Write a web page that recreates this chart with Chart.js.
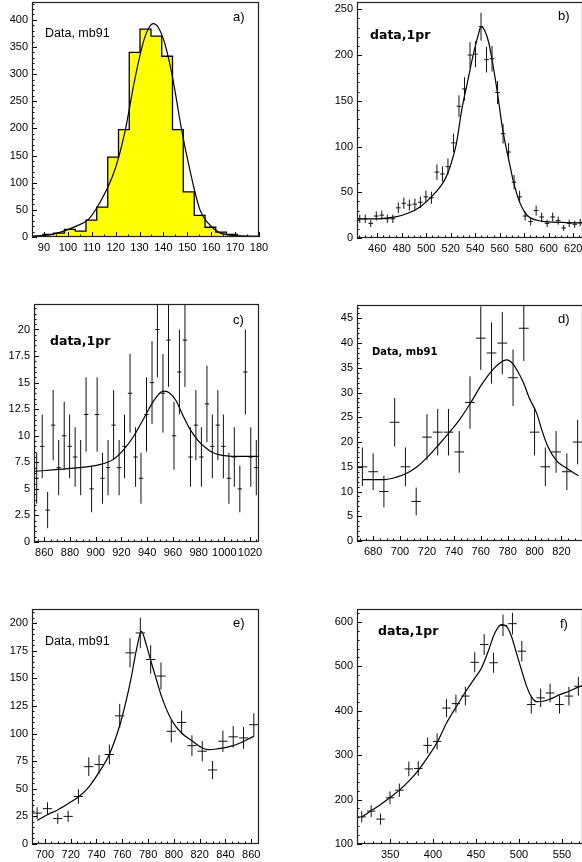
<!DOCTYPE html>
<html>
<head>
<meta charset="utf-8">
<title>Invariant mass spectra</title>
<script src="https://cdn.jsdelivr.net/npm/chart.js@4.4.1/dist/chart.umd.min.js"></script>
<style>
  html, body { margin: 0; padding: 0; background: #fff; }
  body { position: relative; width: 582px; height: 862px; overflow: hidden; }
  canvas { position: absolute; }
</style>
</head>
<body>
<canvas id="pa"></canvas>
<canvas id="pb"></canvas>
<canvas id="pc"></canvas>
<canvas id="pd"></canvas>
<canvas id="pe"></canvas>
<canvas id="pf"></canvas>
<script>
"use strict";

// a) histogram, mb91
var aEdges = [85, 89.52, 94.05, 98.57, 103.1, 107.6, 112.1, 116.7, 121.2, 125.7, 130.2,
  134.8, 139.3, 143.8, 148.3, 152.9, 157.4, 161.9, 166.4, 171, 175.5, 180];
var aCounts = [1, 5, 7, 14, 11, 31, 55, 147, 198, 340, 383, 370, 333, 198, 83, 40, 18, 9, 5, 1, 1];
var aFitX = [85, 92.4, 99.4, 104, 108.5, 112, 116, 120, 124, 128, 132, 135.7, 138, 141, 144,
  147.6, 151, 155.3, 159, 163, 167, 172, 180];
var aFitY = [1.5, 4, 12.7, 21, 32, 53, 85, 128, 196, 290, 365, 393, 385, 350, 290, 198, 125,
  50, 24, 9, 4, 2, 1];
var aXTicks = [90, 100, 110, 120, 130, 140, 150, 160, 170, 180];
var aYTicks = [0, 50, 100, 150, 200, 250, 300, 350, 400];

// b) data,1pr
var bX = [445.75, 450.25, 454.75, 459.25, 463.75, 468.25, 472.75, 477.25, 481.75, 486.25,
  490.75, 495.25, 499.75, 504.25, 508.75, 513.25, 517.75, 522.25, 526.75, 531.25, 535.75,
  540.25, 544.75, 549.25, 553.75, 558.25, 562.75, 567.25, 571.75, 576.25, 580.75, 585.25,
  589.75, 594.25, 598.75, 603.25, 607.75, 612.25, 616.75, 621.25, 625.75];
var bY = [21, 21, 16, 24, 25, 21, 21, 33, 38, 36, 37, 39, 45, 44, 72, 70, 78, 104, 144, 163,
  200, 201, 231, 195, 196, 159, 114, 94, 61, 45, 24, 18, 30, 23, 16, 23, 19, 11, 16, 15, 17];
var bErr = [4.6, 4.6, 4, 4.9, 5, 4.6, 4.6, 5.7, 6.2, 6, 6.1, 6.2, 6.7, 6.6, 8.5, 8.4, 8.8,
  10.2, 12, 12.8, 14.1, 14.2, 15.2, 14, 14, 12.6, 10.7, 9.7, 7.8, 6.7, 4.9, 4.2, 5.5, 4.8, 4,
  4.8, 4.4, 3.3, 4, 3.9, 4.1];
var bFitX = [443.5, 460, 475, 485, 495, 505, 512, 516, 520, 524.6, 529, 533.5, 538, 542.5,
  544.8, 548, 551, 553.6, 558, 562.5, 567, 571.5, 576, 580.5, 585, 594, 610, 628];
var bFitY = [21, 21, 23, 27, 34, 46, 57, 66, 80, 103, 140, 169, 198, 222, 231, 226, 214, 196,
  160, 118, 88, 60, 40, 28, 22, 18.5, 17, 16.5];
var bXTicks = [460, 480, 500, 520, 540, 560, 580, 600, 620];
var bYTicks = [0, 50, 100, 150, 200, 250];

// c) data,1pr
var cX = [854.1, 858.4, 862.6, 866.9, 871.2, 875.5, 879.7, 884, 888.3, 892.5, 896.8, 901.1,
  905.3, 909.6, 913.9, 918.2, 922.4, 926.7, 931, 935.2, 939.5, 943.8, 948, 952.3, 956.6,
  960.9, 965.1, 969.4, 973.7, 977.9, 982.2, 986.5, 990.7, 995, 999.3, 1003.6, 1007.8,
  1012.1, 1016.4, 1020.6, 1024.9];
var cY = [6, 9, 3, 11, 7, 10, 9, 8, 7, 12, 5, 12, 6, 7, 11, 7, 9, 14, 8, 6, 12, 15, 20, 14,
  19, 10, 16, 19, 8, 11, 8, 13, 9, 11, 9, 6, 8, 5, 16, 8, 7];
var cErr = [2.4, 3, 1.7, 3.3, 2.6, 3.2, 3, 2.8, 2.6, 3.5, 2.2, 3.5, 2.4, 2.6, 3.3, 2.6, 3,
  3.7, 2.8, 2.4, 3.5, 3.9, 4.5, 3.7, 4.4, 3.2, 4, 4.4, 2.8, 3.3, 2.8, 3.6, 3, 3.3, 3, 2.4,
  2.8, 2.2, 4, 2.8, 2.6];
var cFitX = [852, 878.2, 904, 913.9, 921.8, 929.8, 937.7, 945.2, 950.6, 953.6, 957.6, 962.5,
  967.5, 973.4, 977.4, 981.4, 986.3, 991.3, 1001.8, 1012.1, 1027];
var cFitY = [6.65, 6.9, 7.3, 7.8, 8.7, 10, 11.7, 13.3, 14.1, 14.2, 14, 13.3, 12, 10.6, 9.9,
  9.3, 8.8, 8.4, 8.1, 8.05, 8.05];
var cXTicks = [860, 880, 900, 920, 940, 960, 980, 1000, 1020];
var cYTicks = [0, 2.5, 5, 7.5, 10, 12.5, 15, 17.5, 20];

// d) Data, mb91
var dX = [672, 680, 688, 696, 704, 712, 720, 728, 736, 744, 752, 760, 768, 776, 784, 792,
  800, 808, 816, 824, 832];
var dY = [15, 14, 10, 24, 15, 8, 21, 22, 22, 18, 28, 41, 38, 40, 33, 43, 22, 15, 18, 14, 20];
var dErr = [3.9, 3.7, 3.2, 4.9, 3.9, 2.8, 4.6, 4.7, 4.7, 4.2, 5.3, 6.4, 6.2, 6.3, 5.7, 6.6,
  4.7, 3.9, 4.2, 3.7, 4.5];
var dFitX = [672, 679.9, 688.2, 697.3, 704.3, 712.2, 720.2, 728.3, 736.2, 744.4, 752.4, 760.6,
  768.5, 774.3, 779.2, 783.9, 787, 791.9, 795.9, 801.6, 805.4, 809.7, 816.4, 824.4, 832.6];
var dFitY = [12.4, 12.4, 12.4, 12.9, 13.6, 14.9, 16.9, 19.3, 21.8, 24.6, 27.9, 31.6, 34.5,
  36, 36.6, 35.8, 34.5, 31.9, 29, 25.8, 22.4, 19.2, 16.2, 14.6, 13.2];
var dXTicks = [680, 700, 720, 740, 760, 780, 800, 820];
var dYTicks = [0, 5, 10, 15, 20, 25, 30, 35, 40, 45];

// e) Data, mb91
var eX = [694, 702, 710, 718, 726, 734, 742, 750, 758, 766, 774, 782, 790, 798, 806, 814,
  822, 830, 838, 846, 854, 862];
var eY = [28, 32, 23, 25, 43, 70, 72, 81, 116, 173, 191, 167, 152, 102, 110, 89, 84, 67, 93,
  97, 96, 108];
var eErr = [5.3, 5.7, 4.8, 5, 6.6, 8.4, 8.5, 9, 10.8, 13.2, 13.8, 12.9, 12.3, 10.1, 10.5,
  9.4, 9.2, 8.2, 9.6, 9.8, 9.8, 10.4];
var eFitX = [694.1, 701.9, 710.2, 718, 726.5, 734.3, 742, 750.3, 758.6, 763.2, 766.6, 771,
  774.8, 778.7, 782.6, 786.5, 790.4, 798.1, 805.9, 814.5, 822.2, 826.6, 833.1, 846, 862];
var eFitY = [21.4, 26.5, 31, 36.5, 43, 52, 65, 82, 109.5, 130.6, 148.7, 176, 192.5, 180,
  163.8, 148.7, 133.6, 112.5, 100.5, 93, 86.9, 85.4, 86, 89, 97.4];
var eXTicks = [700, 720, 740, 760, 780, 800, 820, 840, 860];
var eYTicks = [0, 25, 50, 75, 100, 125, 150, 175, 200];

// f) data,1pr
var fX = [317, 328, 338.9, 349.9, 360.8, 371.8, 382.8, 393.7, 404.7, 415.6, 426.6, 437.6,
  448.5, 459.5, 470.4, 481.4, 492.4, 503.3, 514.3, 525.2, 536.2, 547.2, 558.1, 569.1];
var fY = [161, 174, 156, 204, 221, 269, 270, 322, 331, 406, 416, 433, 509, 549, 508, 592,
  596, 534, 414, 429, 440, 414, 433, 455];
var fErr = [12.7, 13.2, 12.5, 14.3, 14.9, 16.4, 16.4, 17.9, 18.2, 20.1, 20.4, 20.8, 22.6,
  23.4, 22.5, 24.3, 24.4, 23.1, 20.3, 20.7, 21, 20.3, 20.8, 21.3];
var fFitX = [317, 328.6, 340.2, 350.7, 361.5, 372.3, 382.8, 394.4, 404.9, 415.7, 427.3, 438.2,
  448.7, 456.4, 464.2, 471.9, 479.6, 485.4, 491.2, 497, 502.8, 508.6, 514.5, 520.3, 528.1,
  536.6, 547.4, 558.3, 569.9, 574.2];
var fFitY = [160.8, 175.8, 190.8, 205.9, 222.4, 242.6, 265.9, 297.4, 329, 372.5, 410, 443.8,
  473.9, 496.4, 533.9, 575.2, 594, 590.2, 567.7, 530.2, 492.6, 456.6, 431.1, 420.6, 421.4,
  426.6, 436.3, 443.8, 453.6, 456.6];
var fXTicks = [350, 400, 450, 500, 550];
var fYTicks = [100, 200, 300, 400, 500, 600];

var TICK_FONT = { family: "'Liberation Sans', Arial, sans-serif", size: 11 };
var PLAIN_LABEL = "12.5px 'Liberation Sans', Arial, sans-serif";
var BOLD_LABEL = "bold 12.5px 'DejaVu Sans', sans-serif";
var SMALL_BOLD_LABEL = "bold 10px 'DejaVu Sans', sans-serif";
var LETTER_FONT = "13px 'Liberation Sans', Arial, sans-serif";

function zipPoints(xs, ys) {
  return xs.map(function (x, i) {
    return { x: x, y: ys[i] };
  });
}

function fitDataset(xs, ys) {
  return {
    data: zipPoints(xs, ys),
    borderColor: "#000",
    borderWidth: 1.2,
    pointRadius: 0,
    cubicInterpolationMode: "monotone",
    fill: false,
  };
}

function pointsDataset(xs, ys, errs, halfWidth) {
  return {
    data: zipPoints(xs, ys),
    showLine: false,
    pointRadius: 0,
    yErr: errs,
    xErr: halfWidth,
  };
}

// histogram outline: one point per lower bin edge plus the closing edge
function histDataset(edges, counts) {
  var pts = counts.map(function (c, i) {
    return { x: edges[i], y: c };
  });
  pts.push({ x: edges[edges.length - 1], y: counts[counts.length - 1] });
  return {
    data: pts,
    stepped: true,
    borderColor: "#000",
    borderWidth: 1.3,
    backgroundColor: "#ffff00",
    fill: "origin",
    pointRadius: 0,
  };
}

function drawTicks(ctx, scale, area, minorDiv, horizontal) {
  var ticks = scale.ticks.map(function (t) { return t.value; });
  var step = (ticks[1] - ticks[0]) / minorDiv;
  var v = ticks[0];
  while (v - step >= scale.min - 1e-9) v -= step;
  var k = Math.round((ticks[0] - v) / step);
  for (; v <= scale.max + 1e-9; v += step, k--) {
    var major = k % minorDiv === 0;
    var len = major ? 5 : 2.5;
    var p = Math.round(scale.getPixelForValue(v)) + 0.5;
    ctx.beginPath();
    if (horizontal) {
      ctx.moveTo(p, area.bottom);
      ctx.lineTo(p, area.bottom - len);
    } else {
      ctx.moveTo(area.left, p);
      ctx.lineTo(area.left + len, p);
    }
    ctx.stroke();
  }
}

var frameTicks = {
  id: "frameTicks",
  afterDatasetsDraw: function (chart) {
    var ctx = chart.ctx;
    var area = chart.chartArea;
    var xs = chart.scales.x;
    var ys = chart.scales.y;
    ctx.save();
    ctx.beginPath();
    ctx.rect(area.left, area.top, area.right - area.left, area.bottom - area.top);
    ctx.clip();
    ctx.strokeStyle = "#111";
    ctx.lineWidth = 1;
    chart.data.datasets.forEach(function (ds) {
      if (!ds.yErr) return;
      ds.data.forEach(function (pt, i) {
        var px = xs.getPixelForValue(pt.x);
        var py = ys.getPixelForValue(pt.y);
        ctx.beginPath();
        ctx.moveTo(px, ys.getPixelForValue(pt.y - ds.yErr[i]));
        ctx.lineTo(px, ys.getPixelForValue(pt.y + ds.yErr[i]));
        ctx.moveTo(xs.getPixelForValue(pt.x - ds.xErr), py);
        ctx.lineTo(xs.getPixelForValue(pt.x + ds.xErr), py);
        ctx.stroke();
      });
    });
    ctx.restore();
  },
  afterDraw: function (chart) {
    var ctx = chart.ctx;
    var area = chart.chartArea;
    var opts = chart.options.plugins.frameTicks;
    ctx.save();
    ctx.strokeStyle = "#000";
    ctx.lineWidth = 1;
    drawTicks(ctx, chart.scales.x, area, opts.xMinor, true);
    drawTicks(ctx, chart.scales.y, area, opts.yMinor, false);
    ctx.strokeStyle = "#222";
    ctx.lineWidth = 1.2;
    ctx.strokeRect(area.left + 0.5, area.top + 0.5,
      area.right - area.left - 1, area.bottom - area.top - 1);
    ctx.fillStyle = "#000";
    ctx.textBaseline = "alphabetic";
    ctx.textAlign = "left";
    opts.texts.forEach(function (t) {
      ctx.font = t.font;
      ctx.fillText(t.text, area.left + t.dx, area.top + t.dy);
    });
    ctx.restore();
  },
};

function makePanel(p) {
  var yW = 32, padTop = 10, padRight = 16, xH = 22;
  var canvas = document.getElementById(p.id);
  var left = p.frame[0] - yW;
  var top = p.frame[1] - padTop;
  canvas.width = p.frame[2] - left + padRight;
  canvas.height = p.frame[3] - top + xH;
  canvas.style.left = left + "px";
  canvas.style.top = top + "px";

  var tickLabels = {
    autoSkip: false,
    maxRotation: 0,
    minRotation: 0,
    color: "#000",
    font: TICK_FONT,
    callback: function (v) { return String(v); },
  };

  return new Chart(canvas.getContext("2d"), {
    type: "line",
    data: { datasets: p.datasets },
    options: {
      responsive: false,
      animation: false,
      devicePixelRatio: 1,
      layout: { padding: { left: 0, top: padTop, right: padRight, bottom: 0 } },
      plugins: {
        legend: { display: false },
        tooltip: { enabled: false },
        frameTicks: { xMinor: p.xMinor, yMinor: p.yMinor, texts: p.texts },
      },
      scales: {
        x: {
          type: "linear",
          min: p.xRange[0],
          max: p.xRange[1],
          grid: { display: false, drawTicks: false },
          border: { display: false },
          ticks: Object.assign({ padding: 4 }, tickLabels),
          afterBuildTicks: function (scale) {
            scale.ticks = p.xTicks.map(function (v) { return { value: v }; });
          },
          afterFit: function (scale) {
            scale.height = xH;
            scale.paddingLeft = 0;
            scale.paddingRight = 0;
          },
        },
        y: {
          type: "linear",
          min: p.yRange[0],
          max: p.yRange[1],
          grid: { display: false, drawTicks: false },
          border: { display: false },
          ticks: Object.assign({ padding: 4 }, tickLabels),
          afterBuildTicks: function (scale) {
            scale.ticks = p.yTicks.map(function (v) { return { value: v }; });
          },
          afterFit: function (scale) {
            scale.width = yW;
            scale.paddingTop = 0;
            scale.paddingBottom = 0;
          },
        },
      },
    },
    plugins: [frameTicks],
  });
}

makePanel({
  id: "pa", frame: [32, 2, 259, 237], xRange: [85, 180], yRange: [0, 433],
  xTicks: aXTicks, yTicks: aYTicks, xMinor: 2, yMinor: 5,
  datasets: [fitDataset(aFitX, aFitY), histDataset(aEdges, aCounts)],
  texts: [
    { text: "Data, mb91", dx: 13, dy: 35, font: PLAIN_LABEL },
    { text: "a)", dx: 201, dy: 19, font: LETTER_FONT },
  ],
});

makePanel({
  id: "pb", frame: [357, 2, 583, 238], xRange: [443.5, 628], yRange: [0, 258],
  xTicks: bXTicks, yTicks: bYTicks, xMinor: 4, yMinor: 5,
  datasets: [fitDataset(bFitX, bFitY), pointsDataset(bX, bY, bErr, 1.9)],
  texts: [
    { text: "data,1pr", dx: 13, dy: 37, font: BOLD_LABEL },
    { text: "b)", dx: 201, dy: 18, font: LETTER_FONT },
  ],
});

makePanel({
  id: "pc", frame: [34, 304, 259, 542], xRange: [852, 1027], yRange: [0, 22.4],
  xTicks: cXTicks, yTicks: cYTicks, xMinor: 4, yMinor: 5,
  datasets: [fitDataset(cFitX, cFitY), pointsDataset(cX, cY, cErr, 1.7)],
  texts: [
    { text: "data,1pr", dx: 16, dy: 41, font: BOLD_LABEL },
    { text: "c)", dx: 199, dy: 20, font: LETTER_FONT },
  ],
});

makePanel({
  id: "pd", frame: [357, 305, 583, 541], xRange: [668, 836], yRange: [0, 47.7],
  xTicks: dXTicks, yTicks: dYTicks, xMinor: 4, yMinor: 5,
  datasets: [fitDataset(dFitX, dFitY), pointsDataset(dX, dY, dErr, 3.6)],
  texts: [
    { text: "Data, mb91", dx: 15, dy: 50, font: SMALL_BOLD_LABEL },
    { text: "d)", dx: 201, dy: 18, font: LETTER_FONT },
  ],
});

makePanel({
  id: "pe", frame: [32, 609, 259, 844], xRange: [690, 866], yRange: [0, 212.7],
  xTicks: eXTicks, yTicks: eYTicks, xMinor: 4, yMinor: 5,
  datasets: [fitDataset(eFitX, eFitY), pointsDataset(eX, eY, eErr, 3.6)],
  texts: [
    { text: "Data, mb91", dx: 13, dy: 36, font: PLAIN_LABEL },
    { text: "e)", dx: 201, dy: 18, font: LETTER_FONT },
  ],
});

makePanel({
  id: "pf", frame: [357, 609, 583, 844], xRange: [311.5, 574.5], yRange: [100, 629],
  xTicks: fXTicks, yTicks: fYTicks, xMinor: 5, yMinor: 5,
  datasets: [fitDataset(fFitX, fFitY), pointsDataset(fX, fY, fErr, 4.9)],
  texts: [
    { text: "data,1pr", dx: 21, dy: 26, font: BOLD_LABEL },
    { text: "f)", dx: 203, dy: 19, font: LETTER_FONT },
  ],
});
</script>
</body>
</html>
